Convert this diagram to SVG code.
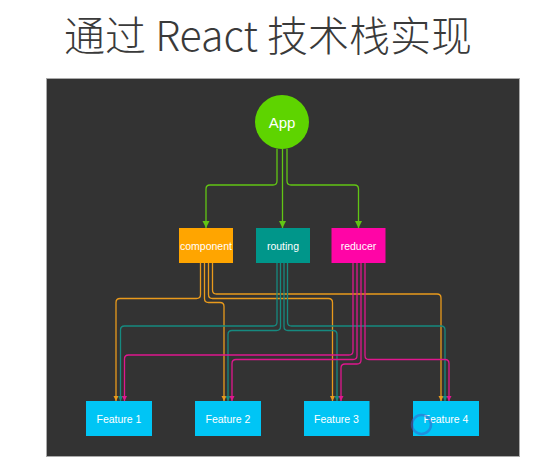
<svg xmlns="http://www.w3.org/2000/svg" width="553" height="461" viewBox="0 0 553 461">
<style>
.title{font-family:"Noto Sans CJK SC","Noto Sans",sans-serif;font-weight:300;font-size:41px;fill:#3a3a3a}
.lbl{font-family:"Liberation Sans","DejaVu Sans",sans-serif;font-size:10.5px;fill:#fff;text-anchor:middle;dominant-baseline:central}
.app{font-size:15px}
.c{fill:none;stroke-width:1.3}
.g{stroke:#62c514}
.o{stroke:#e99a1c}
.t{stroke:#168a80}
.m{stroke:#e0178e}
</style>
<defs>
<marker id="ag" markerUnits="userSpaceOnUse" markerWidth="8" markerHeight="8" refX="7" refY="3.5" orient="auto"><path d="M0,0 L7,3.5 L0,7 z" fill="#62c514"/></marker>
<marker id="ao" markerUnits="userSpaceOnUse" markerWidth="6" markerHeight="6" refX="5" refY="2.5" orient="auto"><path d="M0,0 L5,2.5 L0,5 z" fill="#e99a1c"/></marker>
<marker id="at" markerUnits="userSpaceOnUse" markerWidth="6" markerHeight="6" refX="5" refY="2.5" orient="auto"><path d="M0,0 L5,2.5 L0,5 z" fill="#168a80"/></marker>
<marker id="am" markerUnits="userSpaceOnUse" markerWidth="6" markerHeight="6" refX="5" refY="2.5" orient="auto"><path d="M0,0 L5,2.5 L0,5 z" fill="#e0178e"/></marker>
</defs>
<rect width="553" height="461" fill="#fff"/>
<text class="title" x="268" y="51" text-anchor="middle">通过 React 技术栈实现</text>
<rect x="46.5" y="78.5" width="473" height="378" fill="#333" stroke="#aaa" stroke-width="1"/>

<g id="connectors">
<path class="c g" marker-end="url(#ag)" d="M277,149 V181 Q277,185 273,185 H210 Q206,185 206,189 V228"/>
<path class="c g" marker-end="url(#ag)" d="M282.5,149 V228"/>
<path class="c g" marker-end="url(#ag)" d="M287,149 V181 Q287,185 291,185 H354.5 Q358.5,185 358.5,189 V228"/>

<path class="c o" marker-end="url(#ao)" d="M200.5,263 V294.5 Q200.5,298.5 196.5,298.5 H120 Q116,298.5 116,302.5 V401"/>
<path class="c o" marker-end="url(#ao)" d="M204.5,263 V298.5 Q204.5,302.5 208.5,302.5 H220 Q224,302.5 224,306.5 V401"/>
<path class="c o" marker-end="url(#ao)" d="M208.5,263 V294.5 Q208.5,298.5 212.5,298.5 H328.5 Q332.5,298.5 332.5,302.5 V401"/>
<path class="c o" marker-end="url(#ao)" d="M212.5,263 V290 Q212.5,294 216.5,294 H437 Q441,294 441,298 V401"/>

<path class="c t" marker-end="url(#at)" d="M277,263 V322 Q277,326 273,326 H124.5 Q120.5,326 120.5,330 V401"/>
<path class="c t" marker-end="url(#at)" d="M280.5,263 V326.5 Q280.5,330.5 276.5,330.5 H232 Q228,330.5 228,334.5 V401"/>
<path class="c t" marker-end="url(#at)" d="M284,263 V326.5 Q284,330.5 288,330.5 H333 Q337,330.5 337,334.5 V401"/>
<path class="c t" marker-end="url(#at)" d="M287.5,263 V322 Q287.5,326 291.5,326 H441 Q445,326 445,330 V401"/>

<path class="c m" marker-end="url(#am)" d="M353,263 V351 Q353,355 349,355 H128.5 Q124.5,355 124.5,359 V401"/>
<path class="c m" marker-end="url(#am)" d="M357,263 V355.5 Q357,359.5 353,359.5 H236 Q232,359.5 232,363.5 V401"/>
<path class="c m" marker-end="url(#am)" d="M361,263 V360 Q361,364 357,364 H345 Q341,364 341,368 V401"/>
<path class="c m" marker-end="url(#am)" d="M365,263 V355.5 Q365,359.5 369,359.5 H445 Q449,359.5 449,363.5 V401"/>
</g>

<g id="app"><circle cx="282" cy="122" r="27" fill="#5ed400"/><text class="lbl app" x="282" y="122">App</text></g>
<g id="component"><rect x="179" y="228" width="54" height="35" fill="#ffa500"/><text class="lbl" x="206" y="245.5">component</text></g>
<g id="routing"><rect x="256" y="228" width="54" height="35" fill="#00968a"/><text class="lbl" x="283" y="245.5">routing</text></g>
<g id="reducer"><rect x="331.5" y="228" width="54" height="35" fill="#ff05a6"/><text class="lbl" x="358.5" y="245.5">reducer</text></g>

<g id="feature1"><rect x="86" y="401" width="66" height="35" fill="#00c5f5"/><text class="lbl" x="119" y="418.5">Feature 1</text></g>
<g id="feature2"><rect x="195" y="401" width="66" height="35" fill="#00c5f5"/><text class="lbl" x="228" y="418.5">Feature 2</text></g>
<g id="feature3"><rect x="304" y="401" width="65.5" height="35" fill="#00c5f5"/><text class="lbl" x="336.5" y="418.5">Feature 3</text></g>
<g id="feature4"><rect x="413" y="401" width="66" height="35" fill="#00c5f5"/><text class="lbl" x="446" y="418.5">Feature 4</text></g>

<circle cx="421.5" cy="424.5" r="9.5" fill="none" stroke="#3d62c8" stroke-opacity="0.55" stroke-width="2.5"/>
</svg>
